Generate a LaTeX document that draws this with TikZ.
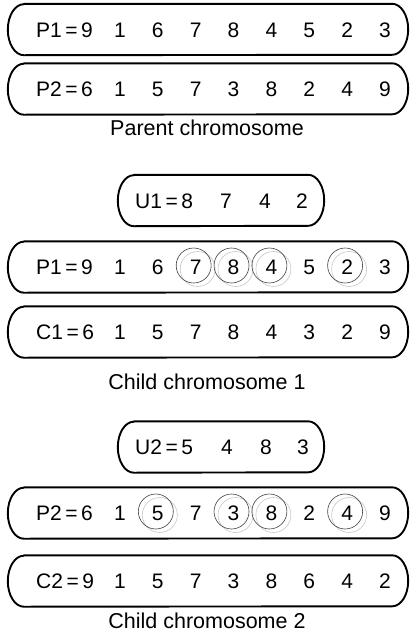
\documentclass[tikz,border=0pt]{standalone}
\usepackage{fontspec}
\setmainfont{Liberation Sans}
\usetikzlibrary{calc}

\tikzset{
  gene/.style={inner sep=0pt, text height=15pt, text depth=0pt,
    font=\fontsize{21}{25}\selectfont},
  tag/.style={gene, anchor=west},
  caption/.style={inner sep=0pt, text height=15.4pt, text depth=0pt,
    font=\fontsize{21.5}{25}\selectfont},
  frame/.style={draw=none, inner sep=0pt, minimum height=51pt},
  outline/.style={line width=1.9pt, line join=round},
  ring/.style={draw=black!75, line width=0.6pt},
  ringshade/.style={draw=black!22, line width=0.6pt},
}

% capsule outline with elliptical ends around a frame node
\newcommand\capsule[1]{%
  \draw[outline] ($(#1.north west)+(16,0)$) -- ($(#1.north east)+(-16,0)$)
    arc[start angle=-90, end angle=90, x radius=16, y radius=25.5]
    -- ($(#1.south west)+(16,0)$)
    arc[start angle=90, end angle=270, x radius=16, y radius=25.5] -- cycle;}

% a full chromosome row: name, y, label, genes
\newcommand\genrow[4]{%
  \node[tag] (#1-0) at (36,#2) {#3};
  \foreach \d [count=\i] in {#4}
    \node[gene] (#1-\i) at ({82.1+37.86*\i},#2) {\d};}

% a selected gene, ringed
\newcommand\ringed[1]{%
  \draw[ringshade] ($(#1)+(2,2)$) circle[radius=17.5];
  \draw[ring] ($(#1)+(-2,-1.5)$) circle[radius=17.5];}

\begin{document}
\begin{tikzpicture}[x=1pt, y=-1pt]
  \useasboundingbox (0,0) rectangle (414,632);

  % parents
  \node[frame, minimum width=400pt] (boxP1) at (208,29.5) {};
  \capsule{boxP1}
  \genrow{pa}{30}{P1\,=\,9}{1,6,7,8,4,5,2,3}

  \node[frame, minimum width=400pt] (boxP2) at (208,89) {};
  \capsule{boxP2}
  \genrow{pb}{89}{P2\,=\,6}{1,5,7,3,8,2,4,9}

  \node[caption] (capP) at (207,128) {Parent chromosome};

  % first child
  \node[frame, minimum width=206pt] (boxU1) at (221,200.5) {};
  \capsule{boxU1}
  \node[tag] (ua-0) at (135,200.5) {U1\,=\,8};
  \node[gene] (ua-1) at (226,200.5) {7};
  \node[gene] (ua-2) at (265,200.5) {4};
  \node[gene] (ua-3) at (302,200.5) {2};

  \node[frame, minimum width=400pt] (boxP1b) at (208,267) {};
  \capsule{boxP1b}
  \genrow{pc}{267}{P1\,=\,9}{1,6,7,8,4,5,2,3}
  \ringed{pc-3}
  \ringed{pc-4}
  \ringed{pc-5}
  \ringed{pc-7}

  \node[frame, minimum width=400pt] (boxC1) at (208,332) {};
  \capsule{boxC1}
  \genrow{ca}{332}{C1\,=\,6}{1,5,7,8,4,3,2,9}

  \node[caption] (capC1) at (207,382) {Child chromosome 1};

  % second child
  \node[frame, minimum width=206pt] (boxU2) at (221,447) {};
  \capsule{boxU2}
  \node[tag] (ub-0) at (135,447) {U2\,=\,5};
  \node[gene] (ub-1) at (227,447) {4};
  \node[gene] (ub-2) at (266,447) {8};
  \node[gene] (ub-3) at (303,447) {3};

  \node[frame, minimum width=400pt] (boxP2b) at (208,513) {};
  \capsule{boxP2b}
  \genrow{pd}{513}{P2\,=\,6}{1,5,7,3,8,2,4,9}
  \ringed{pd-2}
  \ringed{pd-4}
  \ringed{pd-5}
  \ringed{pd-7}

  \node[frame, minimum width=400pt] (boxC2) at (208,581) {};
  \capsule{boxC2}
  \genrow{cb}{581}{C2\,=\,9}{1,5,7,3,8,6,4,2}

  \node[caption] (capC2) at (207,621) {Child chromosome 2};
\end{tikzpicture}
\end{document}
